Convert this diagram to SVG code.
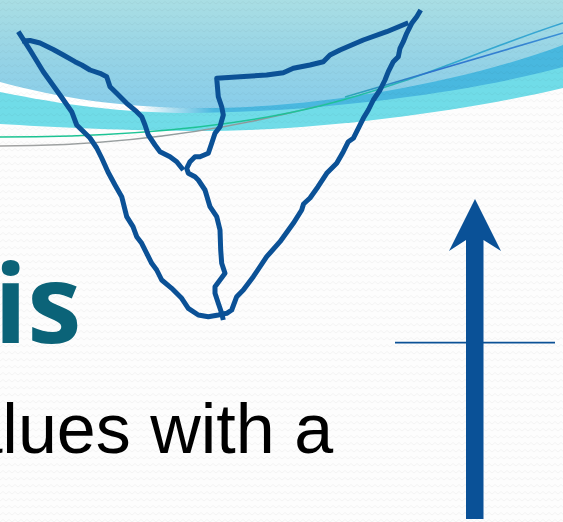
<svg xmlns="http://www.w3.org/2000/svg" width="563" height="522" viewBox="0 0 563 522">
  <defs>
    <!-- faint zigzag paper texture -->
    <pattern id="tex" width="6" height="7" patternUnits="userSpaceOnUse">
      <path d="M0,4 L3,1.5 L6,4" fill="none" stroke="#000" stroke-opacity="0.035" stroke-width="1"/>
    </pattern>
    <linearGradient id="skyGrad" x1="0" y1="0" x2="0" y2="110" gradientUnits="userSpaceOnUse">
      <stop offset="0" stop-color="#a9dee4"/>
      <stop offset="0.55" stop-color="#95d3e6"/>
      <stop offset="1" stop-color="#88cdea"/>
    </linearGradient>
    <linearGradient id="bandGrad" x1="0" y1="0" x2="563" y2="0" gradientUnits="userSpaceOnUse">
      <stop offset="0" stop-color="#ffffff"/>
      <stop offset="0.25" stop-color="#ffffff"/>
      <stop offset="0.38" stop-color="#4ab8e0"/>
      <stop offset="1" stop-color="#48b8df"/>
    </linearGradient>
    <linearGradient id="greenGrad" x1="0" y1="0" x2="563" y2="0" gradientUnits="userSpaceOnUse">
      <stop offset="0" stop-color="#1cc694"/>
      <stop offset="0.6" stop-color="#1fc39a"/>
      <stop offset="0.8" stop-color="#33aad0"/>
      <stop offset="1" stop-color="#38a6d4"/>
    </linearGradient>
    <linearGradient id="blueLineGrad" x1="340" y1="0" x2="563" y2="0" gradientUnits="userSpaceOnUse">
      <stop offset="0" stop-color="#2fb0b8"/>
      <stop offset="0.4" stop-color="#2f72cf"/>
      <stop offset="1" stop-color="#3a8fd6"/>
    </linearGradient>
    <linearGradient id="grayGrad" x1="0" y1="0" x2="340" y2="0" gradientUnits="userSpaceOnUse">
      <stop offset="0" stop-color="#a3a3a3"/>
      <stop offset="0.85" stop-color="#8a9a9c"/>
      <stop offset="1" stop-color="#5a9fb8" stop-opacity="0"/>
    </linearGradient>
    <style>
      .sketch { fill: none; stroke: #0b5196; stroke-width: 5; stroke-linejoin: round; stroke-linecap: butt; }
      .title { font-family: "Open Sans", "Liberation Sans", sans-serif; font-weight: 700; fill: #0b6378; }
      .body { font-family: "Liberation Sans", Arial, sans-serif; fill: #000000; }
    </style>
  </defs>

  <!-- page -->
  <g id="background">
    <rect x="0" y="0" width="563" height="522" fill="#fdfdfd"/>
  </g>

  <!-- layered wave header -->
  <g id="header-waves">
    <path d="M0,0 H563 V88 C470,110 320,132 190,131 C110,130 50,127 0,124 Z" fill="#70dce8"/>
    <path d="M0,0 H563 V67 C480,90 330,112 190,113 C120,113 60,104 0,92 Z" fill="url(#bandGrad)"/>
    <path d="M0,0 H563 V45 C470,80 320,110 190,108 C120,107 60,98 0,82 Z" fill="url(#skyGrad)"/>
    <path d="M0,146 C100,146 220,134 340,100" fill="none" stroke="url(#grayGrad)" stroke-width="1.6"/>
    <path d="M0,137 C120,137 230,128 320,106 S480,50 563,23" fill="none" stroke="url(#greenGrad)" stroke-width="1.6"/>
    <path d="M345,97 Q450,66 563,33" fill="none" stroke="url(#blueLineGrad)" stroke-width="1.6"/>
  </g>

  <rect x="0" y="0" width="563" height="522" fill="url(#tex)"/>

  <!-- slide text -->
  <g id="title-text">
    <text class="title" x="-6" y="343" font-size="109">is</text>
  </g>
  <g id="body-text">
    <text class="body" x="-36.6" y="452.7" font-size="70">alues with a</text>
  </g>

  <!-- hand-drawn outline -->
  <g id="sketch">
    <path class="sketch" d="M420.7,10 L416.7,16.7 411.7,23.3 406.7,33.3 403.3,41.7 400,48.3 398.3,56.7 393.3,61.7 388.3,71.7 385,80 380,90 373.3,100 368.3,110 363.3,118.3 358.3,128.3 353.3,138.3 348.3,141.7 343.3,151.7 336.7,163.3 326.7,173.3 318,186.7 310,198 303.5,204 301.7,210 293.3,223.3 280,241.7 266.7,256.7 253.3,276.7 243.3,290 236.7,296.7 231.7,310 226.7,313.3 218.3,315 208.3,316.7 198.3,315 188.3,308.3 181.7,298.3 171.7,288.3 161.7,280 156.7,270 151.7,263.3 146.7,253.3 141.7,243.3 136.7,236.7 133,226.7 126.7,216.7 121.7,196.7 115,185 108,172 101.7,158 96.7,148 90,138 76.7,125 71.7,111.7 60,95 43.3,71.7 30,50 18.3,31.7"/>
    <path class="sketch" d="M22,41 L30,40.5 40,43 53.3,49.5 63.3,55 75,61.7 81.7,65 90,70 100,73.3 106.7,76.7 110,86.7 116.7,93.3 126.7,103.3 136.7,111.7 141.7,116.7 145,125 148.3,135 155,145 160,151.7 170,156.7 176.7,161.7 183.3,170"/>
    <path class="sketch" d="M408.3,22.7 L386.7,31.7 363.3,40 340,50 330,55 323.3,61.7 310,65 293.3,68.3 283.3,72.7 266.7,75 240,76.7 216.7,78.3 218.3,96.7 221.7,106.7 223.3,115 220,126.7 215,133.3 211.7,143.3 208.3,153.3 200,156.7 195,156.7 190,161.7 186.7,168.3 188.3,173.3 195,176.7 198.3,180 205,190 210,206.7 216.7,216.7 220,230 220.7,250 221.7,263.3 225,273.3 220,280 215,286.7 215,293.3 218.3,303.3 221.7,313.3 223.3,320"/>
  </g>

  <!-- horizontal axis -->
  <g id="axis-line">
    <line x1="395" y1="342.7" x2="555" y2="342.7" stroke="#0b5196" stroke-width="1.8"/>
  </g>

  <!-- upward arrow -->
  <g id="arrow">
    <path d="M466,519 V240 L449,251 L475,199 L501,251 L483.5,240 V519 Z" fill="#0a5197"/>
  </g>
</svg>
